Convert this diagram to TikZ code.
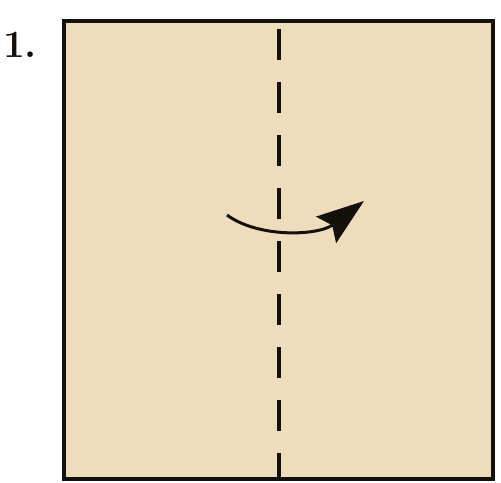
\documentclass[tikz,border=0pt]{standalone}
\usepackage{tikz}
\usetikzlibrary{arrows.meta,positioning,calc}
\definecolor{papertan}{RGB}{238,221,188}
\definecolor{inkblack}{RGB}{20,16,12}

\begin{document}
\begin{tikzpicture}[x=0.02cm, y=-0.02cm,
    sheet/.style={draw=inkblack, line width=0.09cm, fill=papertan},
    foldline/.style={draw=inkblack, line width=0.08cm, dash pattern=on 0.62cm off 0.44cm},
    turnarr/.style={-{Stealth[length=9.5mm, width=6.6mm, inset=1.5mm]}, line width=0.06cm, inkblack},
    steptag/.style={font=\fontsize{22}{24}\selectfont\bfseries, text=inkblack, inner sep=0pt}
]
    % Canvas
    \useasboundingbox (0,0) rectangle (501,483);

    % Sheet of paper
    \path[sheet] (64,21) rectangle (493,479);

    % Valley fold line down the middle
    \coordinate (ftop) at (279,29);
    \coordinate (fbot) at (279,477);
    \draw[foldline] (ftop) -- (fbot);

    % Turn-over arrow
    \coordinate (astart) at (227,215);
    \coordinate (aend) at (364,201);
    \draw[turnarr] (astart) .. controls (258,238) and (318,236) .. (aend);

    % Step number
    \node[steptag] (steplabel) at (20,45) {1.};
\end{tikzpicture}
\end{document}
